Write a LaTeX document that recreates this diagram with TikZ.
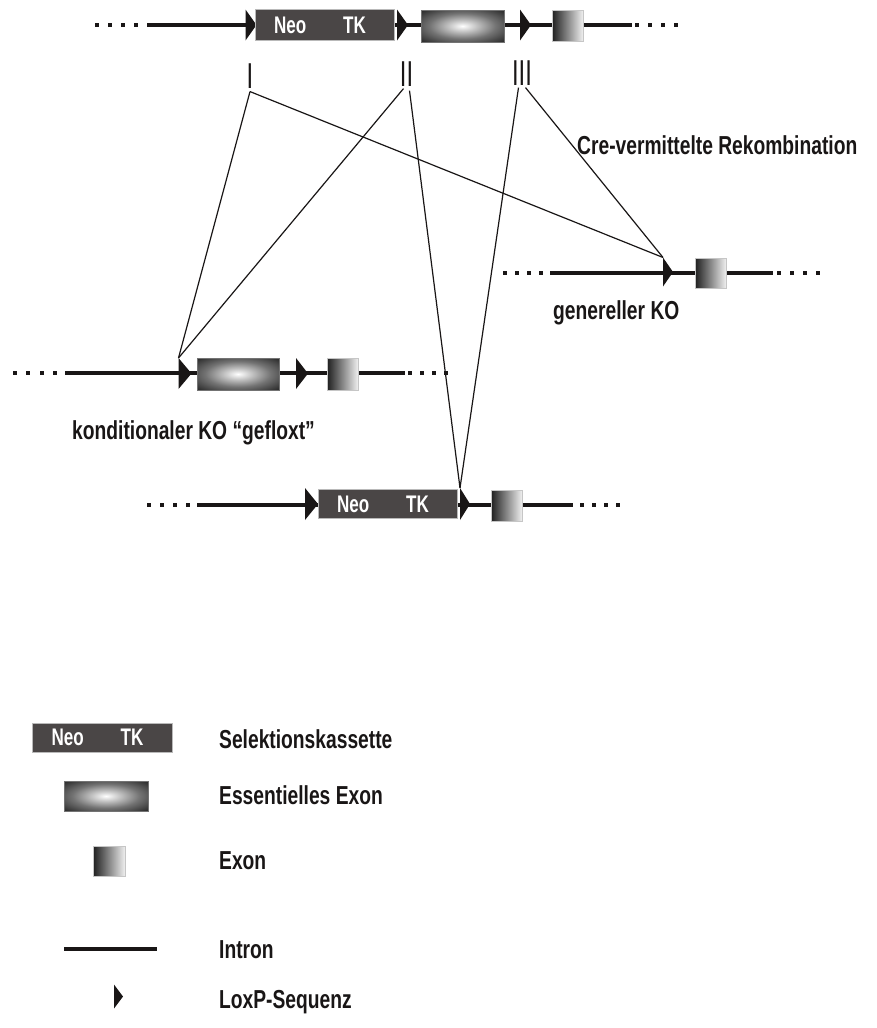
\documentclass[tikz,border=0pt]{standalone}
\usepackage{fontspec}
\newfontfamily\labelfont{Liberation Sans}[FakeStretch=0.74]
\newfontfamily\boxfont{Liberation Sans}[FakeStretch=0.71]
\newfontfamily\numfont{Liberation Sans}[FakeStretch=0.66]
\definecolor{cassettegray}{RGB}{74,70,70}
\definecolor{ink}{RGB}{25,22,22}
\pgfdeclareradialshading{essshade}{\pgfpoint{0bp}{0bp}}{%
  color(0bp)=(white); color(9bp)=(black!25); color(20bp)=(black!55);
  color(34bp)=(black!82); color(50bp)=(black!90)}
\begin{document}
\begin{tikzpicture}[x=1pt,y=-1pt,
  intron/.style={line width=3.5pt, draw=ink},
  link/.style={line width=1.2pt, draw=ink},
  loxp/.style={minimum width=11pt, minimum height=30pt, inner sep=0pt, outer sep=0pt,
    path picture={\fill[ink] (path picture bounding box.north west) --
      (path picture bounding box.east) -- (path picture bounding box.south west) -- cycle;}},
  cassettebox/.style={fill=cassettegray, draw=gray!55, line width=0.8pt,
    minimum width=139pt, minimum height=30pt, inner sep=0pt, text=white,
    font=\boxfont\bfseries\fontsize{24}{24}\selectfont},
  essexon/.style={shading=essshade, draw=black!55, line width=0.6pt,
    minimum width=83pt, minimum height=32pt, inner sep=0pt},
  exon/.style={left color=black!88, right color=gray!12, draw=gray!45, line width=0.6pt,
    minimum width=31pt, minimum height=31pt, inner sep=0pt},
  lbl/.style={inner sep=0pt, font=\labelfont\bfseries\fontsize{26}{26}\selectfont, text=ink},
  numeral/.style={inner sep=0pt, font=\numfont\fontsize{36}{36}\selectfont, text=ink},
]
\newcommand\cassettetext{\makebox[139pt][l]{\hspace{19pt}Neo\hspace{37pt}TK}}
\useasboundingbox (0,0) rectangle (876,1028);
\fill[white] (0,0) rectangle (876,1028);

% ---------- wild-type (targeted) allele ----------
\coordinate (tA) at (147,25);
\coordinate (tB) at (632,25);
\draw[intron] (tA) -- (tB);
\foreach \px in {97,110,123,136} \fill[ink] (\px-1.6,23.4) rectangle ++(3.2,3.2);
\foreach \px in {637,650,663,676} \fill[ink] (\px-1.6,23.4) rectangle ++(3.2,3.2);
\node[loxp, minimum height=31pt] (tL1) at (251,25) {};
\node[cassettebox, minimum height=31pt] (tCas) at (324.5,25) {\cassettetext};
\node[loxp, minimum height=31pt] (tL2) at (402.5,25) {};
\node[essexon] (tEss) at (462.5,26) {};
\node[loxp, minimum height=31pt] (tL3) at (525.5,25) {};
\node[exon] (tEx) at (567.5,25.5) {};

% ---------- recombination sites ----------
\node[numeral] (nI) at (250,76) {I};
\node[numeral] (nII) at (406.5,74) {II};
\node[numeral] (nIII) at (522,73) {III};
\node[lbl, anchor=base west] (cre) at (577,154) {Cre-vermittelte Rekombination};

% ---------- general knockout ----------
\coordinate (gA) at (550,273);
\coordinate (gB) at (773,273);
\draw[intron] (gA) -- (gB);
\foreach \px in {505,517,529,541} \fill[ink] (\px-1.6,271.4) rectangle ++(3.2,3.2);
\foreach \px in {779,792,805,818} \fill[ink] (\px-1.6,271.4) rectangle ++(3.2,3.2);
\node[loxp, minimum width=10pt, minimum height=29pt] (gL) at (668,272) {};
\node[exon, minimum height=30pt] (gEx) at (710.5,273) {};
\node[lbl, anchor=base west] (gTxt) at (553,319) {genereller KO};

% ---------- conditional knockout ----------
\coordinate (cA) at (65,373);
\coordinate (cB) at (405,373);
\draw[intron] (cA) -- (cB);
\foreach \px in {15,28,42,55} \fill[ink] (\px-1.6,371.4) rectangle ++(3.2,3.2);
\foreach \px in {410,422,434,446} \fill[ink] (\px-1.6,371.4) rectangle ++(3.2,3.2);
\node[loxp, minimum width=13pt, minimum height=31pt] (cL1) at (185,373.5) {};
\node[essexon, minimum width=82pt] (cEss) at (238,374) {};
\node[loxp, minimum width=12pt, minimum height=31pt] (cL2) at (302,373.5) {};
\node[exon, minimum height=32pt] (cEx) at (342.5,374.5) {};
\node[lbl, anchor=base west] (cTxt) at (72,439) {konditionaler KO “gefloxt”};

% ---------- allele with selection cassette ----------
\coordinate (bA) at (197,505);
\coordinate (bB) at (573,505);
\draw[intron] (bA) -- (bB);
\foreach \px in {149,162,175,188} \fill[ink] (\px-1.6,503.4) rectangle ++(3.2,3.2);
\foreach \px in {582,594,606,618} \fill[ink] (\px-1.6,503.4) rectangle ++(3.2,3.2);
\node[loxp, minimum width=13pt, minimum height=32pt] (bL1) at (311.5,504) {};
\node[cassettebox, minimum height=29pt] (bCas) at (387.5,504) {\cassettetext};
\node[loxp, minimum width=10pt, minimum height=32pt] (bL2) at (465,504) {};
\node[exon] (bEx) at (506.5,505.5) {};

% ---------- recombination lines ----------
\draw[link] ([yshift=-3pt]nI.south) -- (cL1.north west);
\draw[link] ([yshift=-3pt]nI.south) -- (gL.north west);
\draw[link] ([xshift=-3pt,yshift=-2pt]nII.south) -- (cL1.north west);
\draw[link] ([xshift=3pt,yshift=-4pt]nII.south) -- (bL2.north west);
\draw[link] ([xshift=-3.5pt,yshift=-2pt]nIII.south) -- (bL2.north west);
\draw[link] ([xshift=3.5pt,yshift=-2pt]nIII.south) -- (gL.north west);

% ---------- legend ----------
\node[cassettebox, minimum width=140pt, minimum height=29pt] (kCas) at (102,737.5) {\cassettetext};
\node[lbl, anchor=base west] (kCasT) at (219,748) {Selektionskassette};
\node[essexon, minimum width=84pt, minimum height=30pt] (kEss) at (106,796) {};
\node[lbl, anchor=base west] (kEssT) at (219,804) {Essentielles Exon};
\node[exon, minimum width=32pt, minimum height=30pt] (kEx) at (109,861) {};
\node[lbl, anchor=base west] (kExT) at (219,869) {Exon};
\coordinate (kIa) at (64,949);
\coordinate (kIb) at (157,949);
\draw[intron] (kIa) -- (kIb);
\node[lbl, anchor=base west] (kIT) at (219,958) {Intron};
\node[loxp, minimum width=9pt, minimum height=24pt] (kL) at (118.5,996.5) {};
\node[lbl, anchor=base west] (kLT) at (219,1008) {LoxP-Sequenz};
\end{tikzpicture}
\end{document}
